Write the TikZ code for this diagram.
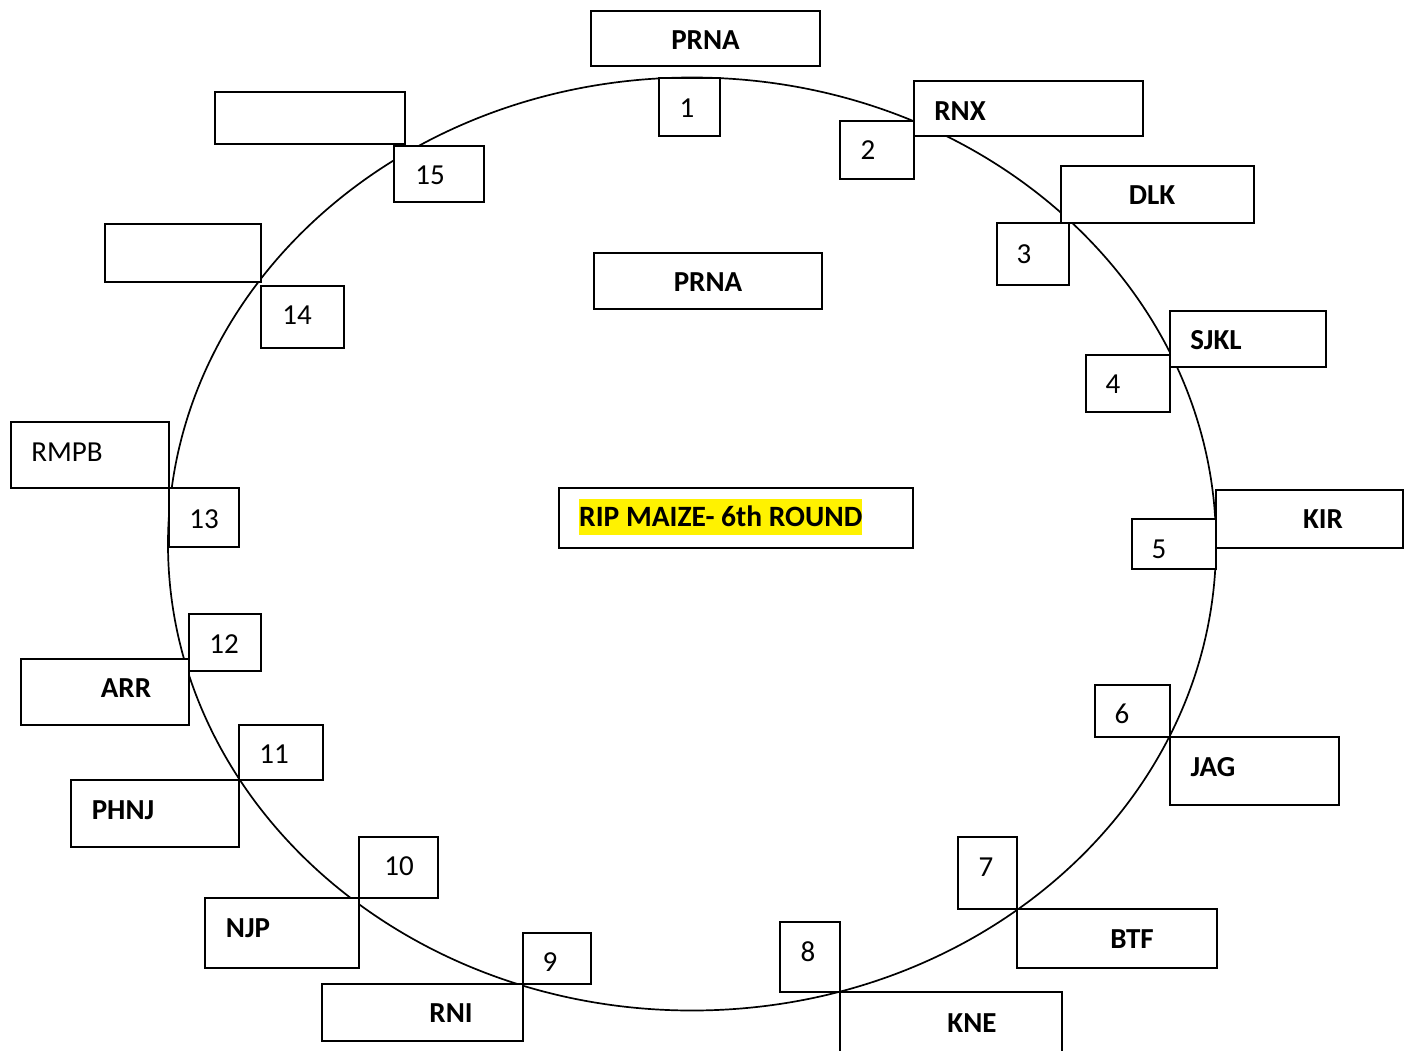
\documentclass[tikz,border=0pt]{standalone}
\usepackage{fontspec}
\setmainfont{Carlito}
\begin{document}
\begin{tikzpicture}[x=1pt,y=-1pt,
  box/.style={draw=black, line width=1.8pt, fill=white, anchor=north west, inner sep=0pt, outer sep=0pt},
  lbl/.style={anchor=base, inner sep=0pt, font=\fontsize{29}{34}\selectfont\bfseries},
  num/.style={anchor=base, inner sep=0pt, font=\fontsize{29}{34}\selectfont}]
\useasboundingbox (0,0) rectangle (1405,1050);
\draw[line width=1.7pt] (692,544) ellipse [x radius=524, y radius=466.5];
% boxes
\node[box, minimum width=229pt, minimum height=55pt] (bPRNAt) at (591,11) {};
\node[box, minimum width=61pt, minimum height=58pt] (b1) at (659,78) {};
\node[box, minimum width=229pt, minimum height=55pt] (bRNX) at (914,81) {};
\node[box, minimum width=74pt, minimum height=58pt] (b2) at (840,121) {};
\node[box, minimum width=193pt, minimum height=57pt] (bDLK) at (1061,166) {};
\node[box, minimum width=72pt, minimum height=62pt] (b3) at (997,223) {};
\node[box, minimum width=156pt, minimum height=56pt] (bSJKL) at (1170,311) {};
\node[box, minimum width=84pt, minimum height=57pt] (b4) at (1086,355) {};
\node[box, minimum width=187pt, minimum height=58pt] (bKIR) at (1216,490) {};
\node[box, minimum width=84pt, minimum height=50pt] (b5) at (1132,519) {};
\node[box, minimum width=75pt, minimum height=52pt] (b6) at (1095,685) {};
\node[box, minimum width=169pt, minimum height=68pt] (bJAG) at (1170,737) {};
\node[box, minimum width=59pt, minimum height=72pt] (b7) at (958,837) {};
\node[box, minimum width=200pt, minimum height=59pt] (bBTF) at (1017,909) {};
\node[box, minimum width=60pt, minimum height=70pt] (b8) at (780,922) {};
\node[box, minimum width=222pt, minimum height=70pt] (bKNE) at (840,992) {};
\node[box, minimum width=68pt, minimum height=51pt] (b9) at (523,933) {};
\node[box, minimum width=201pt, minimum height=57pt] (bRNI) at (322,984) {};
\node[box, minimum width=79pt, minimum height=61pt] (b10) at (359,837) {};
\node[box, minimum width=154pt, minimum height=70pt] (bNJP) at (205,898) {};
\node[box, minimum width=84pt, minimum height=55pt] (b11) at (239,725) {};
\node[box, minimum width=168pt, minimum height=67pt] (bPHNJ) at (71,780) {};
\node[box, minimum width=72pt, minimum height=57pt] (b12) at (189,614) {};
\node[box, minimum width=168pt, minimum height=66pt] (bARR) at (21,659) {};
\node[box, minimum width=70pt, minimum height=59pt] (b13) at (169,488) {};
\node[box, minimum width=158pt, minimum height=66pt] (bRMPB) at (11,422) {};
\node[box, minimum width=83pt, minimum height=62pt] (b14) at (261,286) {};
\node[box, minimum width=156pt, minimum height=58pt] (bBlankA) at (105,224) {};
\node[box, minimum width=90pt, minimum height=56pt] (b15) at (394,146) {};
\node[box, minimum width=190pt, minimum height=52pt] (bBlankB) at (215,92) {};
\node[box, minimum width=228pt, minimum height=56pt] (bPRNAm) at (594,253) {};
\node[box, minimum width=354pt, minimum height=60pt] (bRIP) at (559,488) {};
% texts
\node[lbl] (tPRNAt) at (705.5,49.5) {PRNA};
\node[num] (t1) at (687,117) {1};
\node[lbl] (tRNX) at (960,120) {RNX};
\node[num] (t2) at (868,159) {2};
\node[lbl] (tDLK) at (1152,204) {DLK};
\node[num] (t3) at (1024,263) {3};
\node[lbl] (tSJKL) at (1216,349) {SJKL};
\node[num] (t4) at (1113,393) {4};
\node[lbl] (tKIR) at (1323,528) {KIR};
\node[num] (t5) at (1159,558) {5};
\node[num] (t6) at (1122,723) {6};
\node[lbl] (tJAG) at (1213,776) {JAG};
\node[num] (t7) at (986,876) {7};
\node[lbl] (tBTF) at (1132,948) {BTF};
\node[num] (t8) at (808,961) {8};
\node[lbl] (tKNE) at (972,1032) {KNE};
\node[num] (t9) at (550,971) {9};
\node[lbl] (tRNI) at (451,1022) {RNI};
\node[num] (t10) at (399,875) {10};
\node[lbl] (tNJP) at (248,937) {NJP};
\node[num] (t11) at (274,763) {11};
\node[lbl] (tPHNJ) at (123,819) {PHNJ};
\node[num] (t12) at (224,653) {12};
\node[lbl] (tARR) at (126,697) {ARR};
\node[num] (t13) at (204,528) {13};
\node[num] (tRMPB) at (67,461.5) {RMPB};
\node[num] (t14) at (297,324) {14};
\node[num] (t15) at (430,184) {15};
\node[lbl] (tPRNAm) at (708,291) {PRNA};
\node[lbl, anchor=base west, fill=yellow, text height=27pt, text depth=9pt,
  font=\fontsize{29.5}{34}\selectfont\bfseries] (tRIP) at (579,526) {RIP MAIZE- 6th ROUND};
\end{tikzpicture}
\end{document}
